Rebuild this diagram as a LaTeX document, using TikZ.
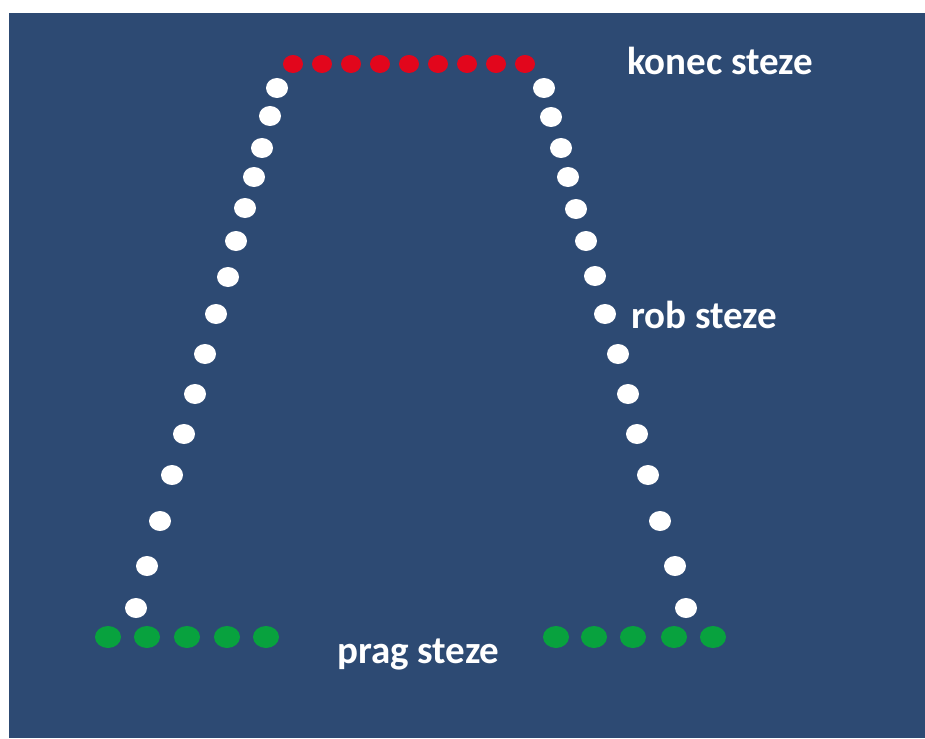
\documentclass[tikz,border=0pt]{standalone}
\usepackage{fontspec}
\setmainfont{Carlito}
\usetikzlibrary{shapes.geometric,positioning}
\definecolor{runway}{HTML}{2D4A73}
\definecolor{endred}{HTML}{E2061C}
\definecolor{thrgreen}{HTML}{08A23E}
\definecolor{edgewhite}{HTML}{FFFFFF}
\tikzset{
  lamp/.style    = {ellipse, inner sep=0pt, draw=none},
  endlamp/.style = {lamp, fill=endred, minimum width=20pt, minimum height=18pt},
  edgelamp/.style= {lamp, fill=edgewhite, minimum width=22pt, minimum height=20pt},
  thrlamp/.style = {lamp, fill=thrgreen, minimum width=26pt, minimum height=22pt},
  lbl/.style     = {text=white, font=\fontsize{39}{41}\selectfont\bfseries, inner sep=0pt, anchor=base west},
}

\begin{document}
\begin{tikzpicture}[x=1pt,y=-1pt]
\fill[white] (0,0) rectangle (925,738);
\useasboundingbox (0,0) rectangle (925,738);
\fill[runway] (9,13) rectangle (925,738);
% runway end
\foreach \i [count=\n] in {293,322,351,380,409,438,467,496,525}
  \node[endlamp] (end\n) at (\i,64) {};
% edge lights
\foreach \x/\y [count=\n] in {277/88,270/116,262/148,254/177,245/208,236/241,228/277,216/314,205/354,195/394,184/434,172/475,160/521,147/566,136/608}
  \node[edgelamp] (edgeL\n) at (\x,\y) {};
\foreach \x/\y [count=\n] in {544/88,551/117,561/148,568/177,576/209,586/241,595/276,605/314,618/354,628/394,637/434,648/475,660/521,675/566,686/608}
  \node[edgelamp] (edgeR\n) at (\x,\y) {};
% threshold
\foreach \i [count=\n] in {108,147,187,227,266}
  \node[thrlamp] (thrL\n) at (\i,637) {};
\foreach \i [count=\n] in {556,594,633,674,713}
  \node[thrlamp] (thrR\n) at (\i,637) {};
% labels
\node[lbl] (konec) at (627,75) {konec steze};
\node[lbl] (rob) at (631,328) {rob steze};
\node[lbl] (prag) at (337,663) {prag steze};
\end{tikzpicture}
\end{document}
